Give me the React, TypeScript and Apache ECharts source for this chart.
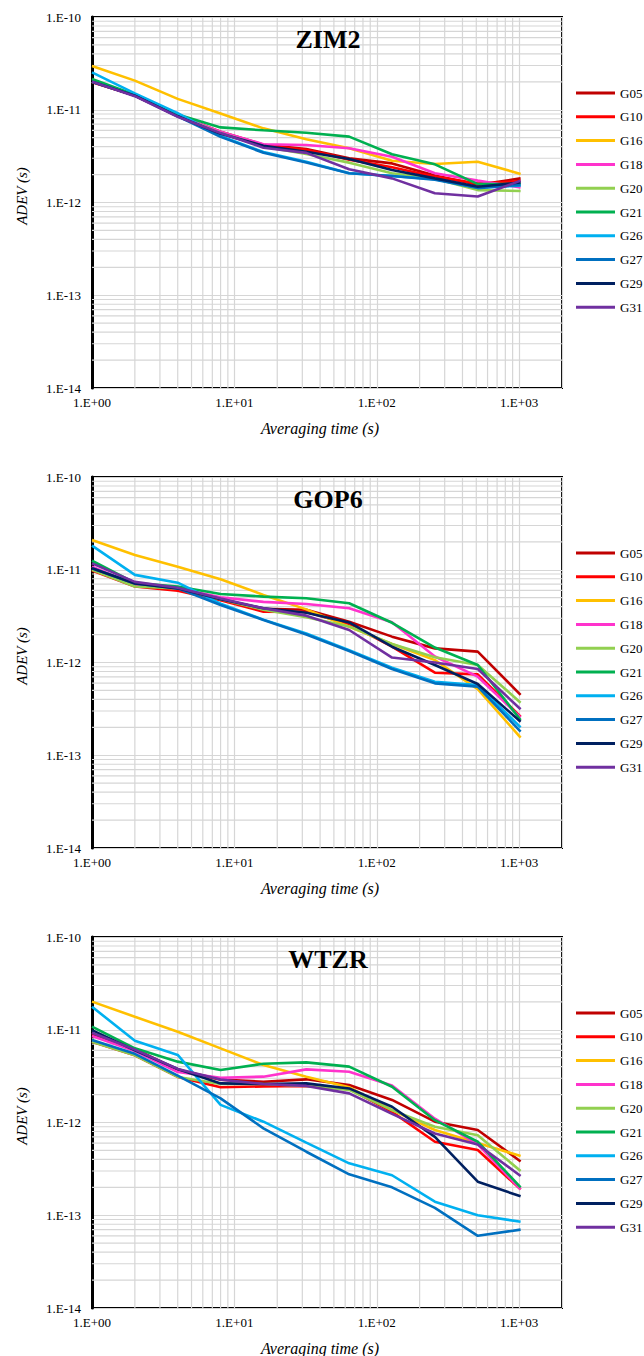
import React, { useEffect, useRef } from "react";
import * as echarts from "echarts";

// Averaging times (s)
const TAU = [1, 2, 4, 8, 16, 32, 64, 128, 256, 512, 1024];
const SATS = ["G05", "G10", "G16", "G18", "G20", "G21", "G26", "G27", "G29", "G31"];
const COLORS = ["#C00000", "#FF0000", "#FFC000", "#FF33CC", "#92D050", "#00B050", "#00B0F0", "#0070C0", "#002060", "#7030A0"];
const STATIONS = ["ZIM2", "GOP6", "WTZR"];

// ADEV values (s), rows in SATS order
const ZIM2 = [
  [2.0e-11, 1.42e-11, 8.6e-12, 5.8e-12, 4.2e-12, 3.78e-12, 2.99e-12, 2.64e-12, 1.95e-12, 1.55e-12, 1.82e-12],
  [1.98e-11, 1.42e-11, 8.6e-12, 5.7e-12, 4.1e-12, 3.7e-12, 2.9e-12, 2.4e-12, 1.9e-12, 1.6e-12, 1.7e-12],
  [2.96e-11, 2.06e-11, 1.31e-11, 9.1e-12, 6.3e-12, 4.8e-12, 3.84e-12, 2.82e-12, 2.6e-12, 2.75e-12, 2.03e-12],
  [2.0e-11, 1.42e-11, 8.7e-12, 5.8e-12, 4.25e-12, 4.17e-12, 3.84e-12, 3.12e-12, 2.07e-12, 1.72e-12, 1.45e-12],
  [2.0e-11, 1.42e-11, 8.6e-12, 5.6e-12, 4.0e-12, 3.33e-12, 2.69e-12, 2.07e-12, 1.8e-12, 1.36e-12, 1.33e-12],
  [2.15e-11, 1.45e-11, 8.9e-12, 6.45e-12, 6.0e-12, 5.66e-12, 5.13e-12, 3.31e-12, 2.58e-12, 1.58e-12, 1.58e-12],
  [2.53e-11, 1.5e-11, 9.2e-12, 5.2e-12, 3.5e-12, 2.75e-12, 2.07e-12, 1.93e-12, 1.78e-12, 1.45e-12, 1.52e-12],
  [2.0e-11, 1.42e-11, 8.5e-12, 5.1e-12, 3.44e-12, 2.7e-12, 2.07e-12, 1.93e-12, 1.76e-12, 1.43e-12, 1.55e-12],
  [2.0e-11, 1.42e-11, 8.5e-12, 5.5e-12, 4.1e-12, 3.53e-12, 2.95e-12, 2.24e-12, 1.82e-12, 1.48e-12, 1.64e-12],
  [2.01e-11, 1.4e-11, 8.4e-12, 5.6e-12, 3.9e-12, 3.43e-12, 2.28e-12, 1.82e-12, 1.26e-12, 1.16e-12, 1.72e-12],
];

const GOP6 = [
  [1.0e-11, 6.8e-12, 6.2e-12, 4.8e-12, 3.8e-12, 3.7e-12, 2.75e-12, 1.9e-12, 1.42e-12, 1.31e-12, 4.47e-13],
  [9.8e-12, 6.6e-12, 5.95e-12, 4.7e-12, 3.53e-12, 3.5e-12, 2.6e-12, 1.48e-12, 7.76e-13, 7.45e-13, 2.6e-13],
  [2.09e-11, 1.44e-11, 1.08e-11, 7.9e-12, 5.35e-12, 3.74e-12, 2.43e-12, 1.58e-12, 1.06e-12, 5.15e-13, 1.55e-13],
  [1.08e-11, 7.0e-12, 6.3e-12, 5.05e-12, 4.5e-12, 4.27e-12, 3.84e-12, 2.71e-12, 1.16e-12, 7.03e-13, 2.56e-13],
  [1.0e-11, 6.6e-12, 6.3e-12, 4.8e-12, 3.7e-12, 3.07e-12, 2.45e-12, 1.58e-12, 1.14e-12, 9.4e-13, 3.69e-13],
  [1.25e-11, 7.2e-12, 6.6e-12, 5.48e-12, 5.13e-12, 4.92e-12, 4.35e-12, 2.68e-12, 1.45e-12, 9.4e-13, 2.4e-13],
  [1.82e-11, 8.8e-12, 7.25e-12, 4.3e-12, 2.9e-12, 2.06e-12, 1.36e-12, 8.8e-13, 6.2e-13, 5.7e-13, 2.0e-13],
  [1.04e-11, 7.1e-12, 6.3e-12, 4.17e-12, 2.87e-12, 2.0e-12, 1.33e-12, 8.5e-13, 5.96e-13, 5.5e-13, 1.8e-13],
  [1.04e-11, 7.1e-12, 6.3e-12, 4.8e-12, 3.84e-12, 3.44e-12, 2.7e-12, 1.48e-12, 9.4e-13, 5.86e-13, 2.3e-13],
  [1.17e-11, 7.4e-12, 6.4e-12, 4.9e-12, 3.84e-12, 3.2e-12, 2.24e-12, 1.13e-12, 1.0e-12, 8.5e-13, 3.13e-13],
];

const WTZR = [
  [9.0e-12, 6.2e-12, 3.7e-12, 2.9e-12, 2.75e-12, 2.92e-12, 2.54e-12, 1.75e-12, 1.02e-12, 8.3e-13, 3.8e-13],
  [7.4e-12, 5.3e-12, 3.1e-12, 2.4e-12, 2.45e-12, 2.48e-12, 2.3e-12, 1.3e-12, 6.2e-13, 5.05e-13, 1.9e-13],
  [2.01e-11, 1.38e-11, 9.5e-12, 6.3e-12, 4.17e-12, 3.12e-12, 2.4e-12, 1.36e-12, 8.3e-13, 6.0e-13, 4.35e-13],
  [8.57e-12, 5.9e-12, 3.5e-12, 3.04e-12, 3.12e-12, 3.74e-12, 3.53e-12, 2.5e-12, 1.1e-12, 5.8e-13, 1.9e-13],
  [7.4e-12, 5.3e-12, 3.1e-12, 2.6e-12, 2.6e-12, 2.48e-12, 2.25e-12, 1.36e-12, 9.0e-13, 7.3e-13, 3.0e-13],
  [1.08e-11, 6.3e-12, 4.53e-12, 3.68e-12, 4.3e-12, 4.45e-12, 4.0e-12, 2.43e-12, 1.06e-12, 6.2e-13, 2.0e-13],
  [1.77e-11, 7.6e-12, 5.35e-12, 1.55e-12, 1.02e-12, 6.06e-13, 3.63e-13, 2.7e-13, 1.4e-13, 1.0e-13, 8.5e-14],
  [7.76e-12, 5.5e-12, 3.2e-12, 1.82e-12, 8.65e-13, 4.84e-13, 2.76e-13, 2.0e-13, 1.2e-13, 6.0e-14, 7.0e-14],
  [9.9e-12, 6.0e-12, 3.78e-12, 2.64e-12, 2.6e-12, 2.64e-12, 2.33e-12, 1.48e-12, 7.0e-13, 2.3e-13, 1.6e-13],
  [9.3e-12, 6.1e-12, 3.78e-12, 2.9e-12, 2.6e-12, 2.48e-12, 2.06e-12, 1.24e-12, 7.6e-13, 5.8e-13, 2.65e-13],
];

const STATION_DATA = [ZIM2, GOP6, WTZR];

// Axis ranges and minor (log) grid line values
const X_RANGE = [1, 2000];
const Y_RANGE = [1e-14, 1e-10];
const X_MINOR = [2, 3, 4, 5, 6, 7, 8, 9, 20, 30, 40, 50, 60, 70, 80, 90, 200, 300, 400, 500, 600, 700, 800, 900];
const Y_MINOR_MULT = [2, 3, 4, 5, 6, 7, 8, 9];
const Y_DECADES = [-14, -13, -12, -11];

const FONT = '"Liberation Serif", "Times New Roman", Times, serif';
const GRID_COLOR = "#d6d6d6";

function sciLabel(v: number): string {
  const e = Math.round(Math.log10(v));
  if (Math.abs(v - Math.pow(10, e)) / v > 1e-6) return "";
  const a = Math.abs(e);
  return "1.E" + (e >= 0 ? "+" : "-") + (a < 10 ? "0" + a : String(a));
}

export default function App() {
  const ref = useRef<HTMLDivElement>(null);

  useEffect(() => {
    if (!ref.current) return;
    const chart = echarts.init(ref.current, undefined, { renderer: "svg" });

    const PANEL_DY = 460;
    const grids: any[] = [];
    const xAxes: any[] = [];
    const yAxes: any[] = [];
    const series: any[] = [];
    const legends: any[] = [];
    const graphics: any[] = [];

    const yMinor: number[] = [];
    Y_DECADES.forEach((d) => Y_MINOR_MULT.forEach((m) => yMinor.push(m * Math.pow(10, d))));

    const gridLineSeries = (i: number, data: number[][]) => ({
      type: "line",
      xAxisIndex: i,
      yAxisIndex: i,
      data,
      symbol: "none",
      showSymbol: false,
      silent: true,
      lineStyle: { color: GRID_COLOR, width: 1.2 },
      itemStyle: { color: GRID_COLOR },
      emphasis: { disabled: true },
      tooltip: { show: false },
      z: 1,
    });

    STATIONS.forEach((st, i) => {
      const top = 17 + PANEL_DY * i;
      grids.push({
        left: 92,
        top,
        width: 470,
        height: 371,
        show: true,
        borderColor: "#000",
        borderWidth: 2,
        backgroundColor: "transparent",
        z: 0,
      });
      xAxes.push({
        type: "log",
        gridIndex: i,
        logBase: 10,
        min: X_RANGE[0],
        max: X_RANGE[1],
        axisLine: { show: false },
        axisTick: { show: false },
        axisLabel: {
          formatter: sciLabel,
          fontFamily: FONT,
          fontSize: 13,
          color: "#000",
          margin: 8,
        },
        splitLine: { show: true, lineStyle: { color: GRID_COLOR, width: 1.2 } },
      });
      yAxes.push({
        type: "log",
        gridIndex: i,
        logBase: 10,
        min: Y_RANGE[0],
        max: Y_RANGE[1],
        axisLine: { show: true, onZero: false, lineStyle: { color: "#000", width: 3 } },
        axisTick: { show: false },
        axisLabel: {
          formatter: sciLabel,
          fontFamily: FONT,
          fontSize: 13,
          color: "#000",
          margin: 11,
        },
        splitLine: { show: true, lineStyle: { color: GRID_COLOR, width: 1.2 } },
      });

      // minor grid lines, one series each, drawn through the axes
      X_MINOR.forEach((v) => series.push(gridLineSeries(i, [[v, Y_RANGE[0]], [v, Y_RANGE[1]]])));
      yMinor.forEach((v) => series.push(gridLineSeries(i, [[X_RANGE[0], v], [X_RANGE[1], v]])));

      const rows = STATION_DATA[i];
      SATS.forEach((sat, j) => {
        series.push({
          type: "line",
          name: sat,
          xAxisIndex: i,
          yAxisIndex: i,
          data: TAU.map((t, k) => [t, rows[j][k]]),
          symbol: "none",
          showSymbol: false,
          lineStyle: { width: 2.6, color: COLORS[j] },
          itemStyle: { color: COLORS[j] },
          z: 3,
        });
      });

      legends.push({
        data: SATS,
        orient: "vertical",
        left: 576,
        top: 86 + PANEL_DY * i,
        itemWidth: 39,
        itemHeight: 3,
        itemGap: 9.8,
        icon: "rect",
        padding: 0,
        selectedMode: false,
        textStyle: { fontFamily: FONT, fontSize: 13, color: "#000", lineHeight: 14 },
      });

      graphics.push({
        type: "text",
        z: 20,
        x: 328,
        y: 39 + PANEL_DY * i,
        style: {
          text: st,
          font: 'bold 26px "Liberation Serif", "Times New Roman", serif',
          fill: "#000",
          align: "center",
          verticalAlign: "middle",
        },
      });
      graphics.push({
        type: "text",
        z: 20,
        x: 320,
        y: 428 + PANEL_DY * i,
        style: {
          text: "Averaging time (s)",
          font: 'italic 16px "Liberation Serif", "Times New Roman", serif',
          fill: "#000",
          align: "center",
          verticalAlign: "middle",
        },
      });
      graphics.push({
        type: "text",
        z: 20,
        x: 22,
        y: 196 + PANEL_DY * i,
        rotation: Math.PI / 2,
        style: {
          text: "ADEV (s)",
          font: 'italic 15px "Liberation Serif", "Times New Roman", serif',
          fill: "#000",
          align: "center",
          verticalAlign: "middle",
        },
      });
    });

    chart.setOption({
      animation: false,
      backgroundColor: "#fff",
      grid: grids,
      xAxis: xAxes,
      yAxis: yAxes,
      legend: legends,
      series,
      graphic: { z: 20, elements: graphics },
    });

    return () => chart.dispose();
  }, []);

  return (
    <div
      ref={ref}
      style={{ position: "absolute", left: 0, top: 0, width: 644, height: 1356 }}
    />
  );
}
